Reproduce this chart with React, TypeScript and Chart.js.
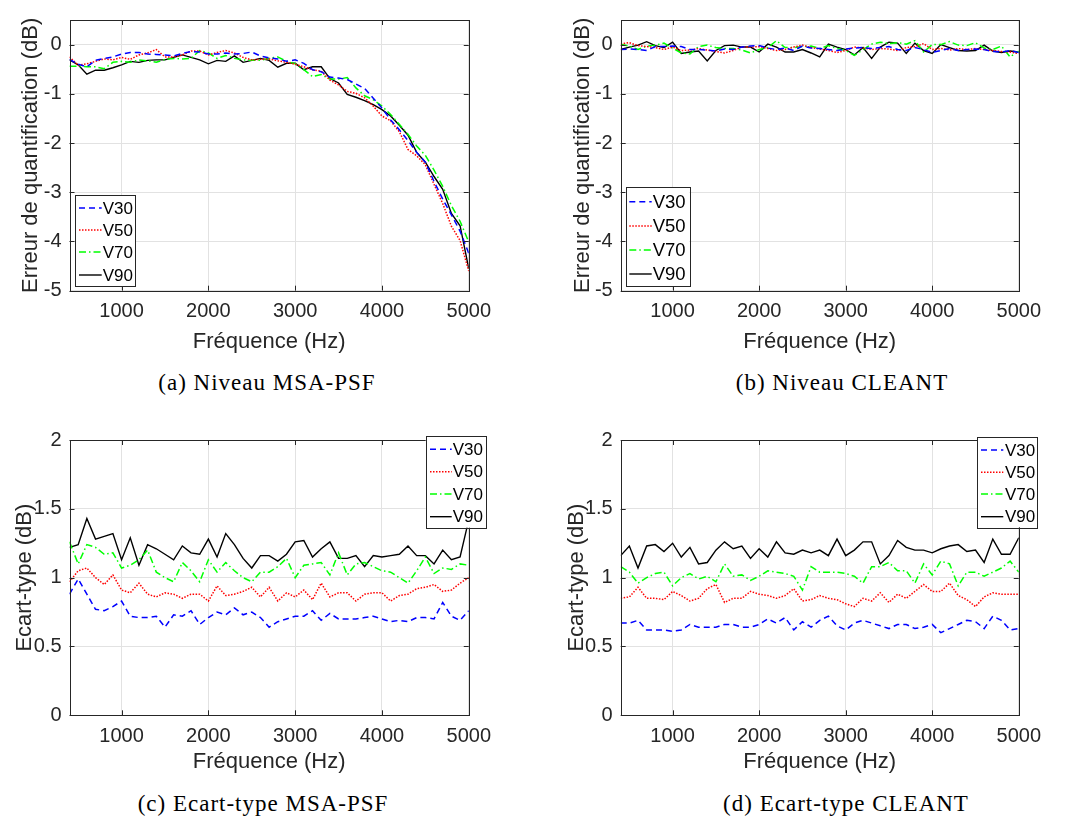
import React, { useEffect, useRef } from "react";
import { Chart, registerables } from "chart.js";
Chart.register(...registerables);

// ---------- data ----------
const freq = [400, 500, 600, 700, 800, 900, 1000, 1100, 1200, 1300, 1400, 1500, 1600, 1700, 1800, 1900, 2000, 2100, 2200, 2300, 2400, 2500, 2600, 2700, 2800, 2900, 3000, 3100, 3200, 3300, 3400, 3500, 3600, 3700, 3800, 3900, 4000, 4100, 4200, 4300, 4400, 4500, 4600, 4700, 4800, 4900, 5000];

const seriesNames = ["V30", "V50", "V70", "V90"];
const xTicks = [1000, 2000, 3000, 4000, 5000];
const levelTicks = [-5, -4, -3, -2, -1, 0];
const stdTicks = [0, 0.5, 1, 1.5, 2];

// (a) Niveau MSA-PSF
const a30 = [-0.30, -0.40, -0.45, -0.32, -0.28, -0.25, -0.19, -0.16, -0.16, -0.19, -0.20, -0.21, -0.23, -0.18, -0.14, -0.15, -0.19, -0.19, -0.17, -0.19, -0.18, -0.15, -0.23, -0.27, -0.29, -0.34, -0.31, -0.38, -0.51, -0.55, -0.66, -0.68, -0.71, -0.80, -0.89, -1.09, -1.29, -1.53, -1.73, -1.95, -2.19, -2.39, -2.78, -3.14, -3.46, -3.79, -4.24];
const a50 = [-0.25, -0.42, -0.39, -0.34, -0.29, -0.31, -0.26, -0.30, -0.21, -0.17, -0.10, -0.25, -0.25, -0.21, -0.13, -0.13, -0.21, -0.16, -0.12, -0.17, -0.26, -0.31, -0.30, -0.29, -0.33, -0.36, -0.40, -0.45, -0.51, -0.54, -0.72, -0.82, -0.95, -0.99, -1.08, -1.25, -1.45, -1.55, -1.77, -2.13, -2.26, -2.44, -2.84, -3.23, -3.69, -3.98, -4.60];
const a70 = [-0.44, -0.44, -0.45, -0.45, -0.49, -0.36, -0.34, -0.36, -0.31, -0.33, -0.36, -0.30, -0.28, -0.29, -0.28, -0.12, -0.17, -0.28, -0.22, -0.28, -0.31, -0.32, -0.32, -0.28, -0.25, -0.34, -0.39, -0.51, -0.65, -0.61, -0.70, -0.70, -0.67, -0.88, -1.04, -1.12, -1.25, -1.42, -1.62, -1.82, -2.06, -2.25, -2.55, -2.88, -3.27, -3.59, -4.01];
const a90 = [-0.31, -0.41, -0.60, -0.52, -0.52, -0.47, -0.41, -0.34, -0.36, -0.32, -0.31, -0.31, -0.26, -0.21, -0.26, -0.31, -0.39, -0.32, -0.34, -0.23, -0.36, -0.32, -0.28, -0.32, -0.46, -0.38, -0.38, -0.51, -0.45, -0.45, -0.69, -0.78, -1.01, -1.07, -1.14, -1.22, -1.32, -1.45, -1.64, -1.84, -2.19, -2.39, -2.68, -2.94, -3.43, -3.68, -4.55];

// (b) Niveau CLEANT
const b30 = [-0.10, -0.09, -0.10, -0.12, -0.04, -0.04, -0.03, -0.04, -0.10, -0.10, -0.11, -0.13, -0.09, -0.10, -0.05, -0.03, -0.02, -0.07, -0.10, -0.07, -0.12, -0.03, -0.07, -0.08, -0.10, -0.12, -0.09, -0.07, -0.06, -0.08, -0.06, -0.04, -0.10, -0.12, -0.06, -0.10, -0.16, -0.12, -0.08, -0.12, -0.10, -0.09, -0.10, -0.14, -0.15, -0.12, -0.16];
const b50 = [0.01, 0.04, -0.02, -0.04, -0.06, -0.10, -0.05, -0.12, -0.11, -0.08, -0.11, -0.14, -0.17, -0.12, -0.05, -0.05, -0.04, -0.08, -0.12, -0.10, -0.05, -0.01, -0.06, -0.09, -0.12, -0.16, -0.12, -0.05, -0.07, -0.10, -0.08, -0.09, -0.12, -0.06, -0.04, 0.02, -0.10, -0.08, -0.11, -0.08, -0.10, -0.08, -0.10, -0.12, -0.14, -0.15, -0.18];
const b70 = [0.01, -0.03, -0.10, -0.03, -0.01, 0.03, -0.07, -0.17, -0.19, -0.04, -0.01, -0.06, -0.08, -0.08, -0.11, -0.17, -0.10, -0.06, 0.08, -0.06, -0.06, -0.04, -0.03, -0.08, -0.02, -0.08, -0.12, -0.22, -0.10, 0.01, 0.05, 0.02, 0.04, 0.01, 0.08, -0.15, 0.00, 0.00, 0.06, -0.01, -0.02, 0.04, -0.07, -0.10, -0.03, -0.25, -0.13];
const b90 = [-0.10, -0.05, -0.01, 0.06, -0.02, -0.06, 0.05, -0.18, -0.15, -0.13, -0.33, -0.12, -0.02, -0.01, -0.05, -0.05, -0.15, 0.01, -0.05, -0.15, -0.15, -0.10, -0.17, -0.25, 0.01, -0.05, -0.10, -0.21, -0.06, -0.28, -0.05, 0.05, 0.03, -0.18, 0.03, -0.12, -0.18, 0.00, -0.06, -0.12, -0.13, -0.12, -0.01, -0.13, -0.16, -0.13, -0.15];

// (c) Ecart-type MSA-PSF
const c30 = [0.88, 0.99, 0.88, 0.77, 0.76, 0.79, 0.83, 0.72, 0.71, 0.71, 0.72, 0.64, 0.73, 0.72, 0.76, 0.66, 0.71, 0.75, 0.73, 0.78, 0.73, 0.75, 0.71, 0.64, 0.68, 0.70, 0.72, 0.72, 0.76, 0.69, 0.74, 0.70, 0.70, 0.70, 0.71, 0.72, 0.70, 0.68, 0.69, 0.68, 0.71, 0.71, 0.70, 0.82, 0.72, 0.69, 0.76];
const c50 = [0.97, 1.05, 1.07, 1.00, 0.95, 1.02, 0.91, 0.89, 0.96, 0.88, 0.86, 0.89, 0.88, 0.85, 0.88, 0.88, 0.83, 0.94, 0.87, 0.88, 0.90, 0.93, 0.86, 0.93, 0.83, 0.89, 0.86, 0.91, 0.84, 0.96, 0.86, 0.89, 0.89, 0.83, 0.88, 0.89, 0.89, 0.83, 0.87, 0.88, 0.92, 0.93, 0.95, 0.90, 0.91, 0.96, 1.00];
const c70 = [1.26, 1.10, 1.24, 1.22, 1.17, 1.18, 1.07, 1.09, 1.13, 1.20, 1.04, 1.00, 0.97, 1.11, 1.05, 0.97, 1.13, 1.04, 1.11, 1.05, 1.00, 0.97, 1.04, 1.04, 1.08, 1.14, 1.00, 1.09, 1.10, 1.11, 1.02, 1.18, 1.02, 1.10, 1.11, 1.08, 1.05, 1.04, 1.00, 0.96, 1.05, 1.15, 1.03, 1.07, 1.06, 1.10, 1.09];
const c90 = [1.22, 1.24, 1.43, 1.28, 1.30, 1.32, 1.13, 1.29, 1.09, 1.24, 1.21, 1.17, 1.13, 1.23, 1.18, 1.17, 1.28, 1.15, 1.32, 1.24, 1.14, 1.07, 1.16, 1.16, 1.12, 1.17, 1.26, 1.27, 1.15, 1.21, 1.26, 1.14, 1.14, 1.16, 1.08, 1.16, 1.15, 1.16, 1.17, 1.23, 1.16, 1.16, 1.10, 1.20, 1.13, 1.15, 1.42];

// (d) Ecart-type CLEANT
const d30 = [0.67, 0.67, 0.69, 0.62, 0.62, 0.62, 0.61, 0.62, 0.66, 0.64, 0.64, 0.64, 0.66, 0.66, 0.64, 0.64, 0.66, 0.70, 0.67, 0.71, 0.62, 0.68, 0.64, 0.69, 0.72, 0.65, 0.62, 0.67, 0.69, 0.67, 0.65, 0.63, 0.66, 0.66, 0.63, 0.64, 0.66, 0.60, 0.63, 0.66, 0.69, 0.68, 0.63, 0.72, 0.69, 0.62, 0.63];
const d50 = [0.85, 0.86, 0.93, 0.85, 0.85, 0.84, 0.90, 0.87, 0.83, 0.85, 0.92, 0.95, 0.82, 0.85, 0.85, 0.90, 0.88, 0.87, 0.85, 0.87, 0.92, 0.83, 0.84, 0.87, 0.85, 0.84, 0.81, 0.79, 0.85, 0.83, 0.89, 0.82, 0.88, 0.85, 0.90, 0.95, 0.90, 0.90, 0.96, 0.87, 0.84, 0.79, 0.86, 0.89, 0.88, 0.88, 0.88];
const d70 = [1.08, 1.04, 0.96, 1.00, 1.03, 1.04, 0.94, 1.00, 1.03, 0.99, 1.01, 0.97, 1.10, 1.01, 1.02, 0.98, 1.01, 1.05, 1.04, 1.03, 1.01, 0.91, 1.08, 1.04, 1.04, 1.04, 1.03, 1.01, 0.96, 1.08, 1.08, 1.11, 1.05, 1.05, 0.96, 1.10, 1.02, 1.12, 1.10, 0.94, 1.04, 1.04, 1.01, 1.04, 1.07, 1.12, 1.04];
const d90 = [1.16, 1.23, 1.07, 1.23, 1.24, 1.19, 1.25, 1.15, 1.22, 1.10, 1.11, 1.20, 1.26, 1.21, 1.23, 1.14, 1.21, 1.15, 1.26, 1.18, 1.17, 1.20, 1.18, 1.20, 1.16, 1.28, 1.16, 1.20, 1.26, 1.26, 1.10, 1.16, 1.27, 1.22, 1.20, 1.20, 1.18, 1.21, 1.23, 1.24, 1.19, 1.20, 1.11, 1.28, 1.17, 1.17, 1.29];

// ---------- styles ----------
const SANS = '"Liberation Sans", Arial, Helvetica, sans-serif';
const SERIF = '"Liberation Serif", "DejaVu Serif", serif';
const AXIS_COLOR = "#262626";
const GRID_COLOR = "#e2e2e2";
const lineStyles = [
  { color: "#0000ff", dash: [6, 4], width: 1.5 },
  { color: "#ff0000", dash: [1.5, 1.5], width: 1.5 },
  { color: "#00ff00", dash: [7, 3, 1.5, 3], width: 1.5 },
  { color: "#000000", dash: [] as number[], width: 1.4 },
];

const framePlugin = {
  id: "matlabFrame",
  afterDraw(chart: any, _args: any, opts: any) {
    const { ctx, chartArea: ca, scales } = chart;
    ctx.save();
    ctx.strokeStyle = AXIS_COLOR;
    ctx.lineWidth = 1;
    ctx.setLineDash([]);
    const tl = 5;
    ctx.beginPath();
    scales.x.ticks.forEach((t: any) => {
      const px = Math.round(scales.x.getPixelForValue(t.value)) + 0.5;
      ctx.moveTo(px, ca.bottom);
      ctx.lineTo(px, ca.bottom - tl);
      ctx.moveTo(px, ca.top);
      ctx.lineTo(px, ca.top + tl);
    });
    scales.y.ticks.forEach((t: any) => {
      const py = Math.round(scales.y.getPixelForValue(t.value)) + 0.5;
      ctx.moveTo(ca.left, py);
      ctx.lineTo(ca.left + tl, py);
      ctx.moveTo(ca.right, py);
      ctx.lineTo(ca.right - tl, py);
    });
    ctx.stroke();
    ctx.strokeRect(Math.round(ca.left) + 0.5, Math.round(ca.top) + 0.5, Math.round(ca.right - ca.left), Math.round(ca.bottom - ca.top));

    const lg = opts.legend;
    if (lg) {
      ctx.fillStyle = "#ffffff";
      ctx.fillRect(lg.x, lg.y, lg.w, lg.h);
      ctx.strokeStyle = AXIS_COLOR;
      ctx.strokeRect(Math.round(lg.x) + 0.5, Math.round(lg.y) + 0.5, Math.round(lg.w), Math.round(lg.h));
      seriesNames.forEach((name, i) => {
        const ry = lg.rows[i];
        ctx.strokeStyle = lineStyles[i].color;
        ctx.lineWidth = lineStyles[i].width;
        ctx.setLineDash(lineStyles[i].dash);
        ctx.beginPath();
        ctx.moveTo(lg.l1, ry);
        ctx.lineTo(lg.l2, ry);
        ctx.stroke();
        ctx.setLineDash([]);
        ctx.fillStyle = "#000000";
        ctx.font = `${lg.fs}px ${SANS}`;
        ctx.textBaseline = "middle";
        ctx.textAlign = "left";
        ctx.fillText(name, lg.tx, ry + 1);
      });
    }
    ctx.restore();
  },
};

type PanelDef = {
  key: string;
  left: number;
  top: number;
  width: number;
  height: number;
  yWidth: number;
  xHeight: number;
  padTop: number;
  padRight: number;
  ymin: number;
  ymax: number;
  yTicks: number[];
  ytitle: string;
  ytitlePad: number;
  series: number[][];
  legend: any;
  caption: string;
  capX: number;
  capY: number;
};

const panels: PanelDef[] = [
  {
    key: "a", left: 0, top: 0, width: 500, height: 360, yWidth: 69.5, xHeight: 69.3, padTop: 8.5, padRight: 11,
    ymin: -5, ymax: 0.5, yTicks: levelTicks, ytitle: "Erreur de quantification (dB)", ytitlePad: 18,
    series: [a30, a50, a70, a90],
    legend: { x: 75, y: 195, w: 60, h: 91, rows: [208, 230, 252, 275], l1: 79, l2: 101.7, tx: 102.7, fs: 17 },
    caption: "(a) Niveau MSA-PSF", capX: 267, capY: 383,
  },
  {
    key: "b", left: 550, top: 0, width: 500, height: 360, yWidth: 70.7, xHeight: 69.3, padTop: 8.5, padRight: 9.3,
    ymin: -5, ymax: 0.5, yTicks: levelTicks, ytitle: "Erreur de quantification (dB)", ytitlePad: 20,
    series: [b30, b50, b70, b90],
    legend: { x: 75.7, y: 187.3, w: 63.6, h: 98.7, rows: [201.7, 226, 250, 274], l1: 79.3, l2: 101.7, tx: 102.7, fs: 18.5 },
    caption: "(b) Niveau CLEANT", capX: 842, capY: 383,
  },
  {
    key: "c", left: 0, top: 420, width: 500, height: 360, yWidth: 69.5, xHeight: 64.7, padTop: 13.3, padRight: 11,
    ymin: 0, ymax: 2, yTicks: stdTicks, ytitle: "Ecart-type (dB)", ytitlePad: 12,
    series: [c30, c50, c70, c90],
    legend: { x: 425.7, y: 16, w: 60.3, h: 91.7, rows: [29.3, 51.7, 74, 96.7], l1: 430, l2: 451.7, tx: 452.7, fs: 17 },
    caption: "(c) Ecart-type MSA-PSF", capX: 263, capY: 804,
  },
  {
    key: "d", left: 550, top: 420, width: 500, height: 360, yWidth: 70.7, xHeight: 64.7, padTop: 13.3, padRight: 9.3,
    ymin: 0, ymax: 2, yTicks: stdTicks, ytitle: "Ecart-type (dB)", ytitlePad: 14,
    series: [d30, d50, d70, d90],
    legend: { x: 427.3, y: 16.7, w: 60, h: 90.6, rows: [30, 52.3, 74, 96.7], l1: 431, l2: 453.3, tx: 455, fs: 17 },
    caption: "(d) Ecart-type CLEANT", capX: 846, capY: 804,
  },
];

function Panel({ def }: { def: PanelDef }) {
  const ref = useRef<HTMLCanvasElement | null>(null);
  useEffect(() => {
    if (!ref.current) return;
    const datasets = def.series.map((vals, i) => ({
      label: seriesNames[i],
      data: freq.map((f, j) => ({ x: f, y: vals[j] })),
      borderColor: lineStyles[i].color,
      borderDash: lineStyles[i].dash,
      borderWidth: lineStyles[i].width,
      pointRadius: 0,
      tension: 0,
      fill: false,
    }));
    const chart = new Chart(ref.current, {
      type: "line",
      data: { datasets },
      options: {
        animation: false,
        responsive: false,
        devicePixelRatio: 1,
        layout: { padding: { left: 0, top: def.padTop, right: def.padRight, bottom: 0 } },
        plugins: {
          legend: { display: false },
          tooltip: { enabled: false },
          matlabFrame: { legend: def.legend },
        } as any,
        scales: {
          x: {
            type: "linear",
            min: 400,
            max: 5000,
            afterBuildTicks: (s: any) => { s.ticks = xTicks.map((v) => ({ value: v })); },
            afterFit: (s: any) => { s.height = def.xHeight; },
            grid: { color: GRID_COLOR, lineWidth: 1, drawTicks: false },
            border: { display: false },
            ticks: {
              padding: 9,
              maxRotation: 0,
              autoSkip: false,
              color: AXIS_COLOR,
              font: { family: SANS, size: 20 },
              callback: (v: any) => String(v),
            },
            title: {
              display: true,
              text: "Fréquence (Hz)",
              color: AXIS_COLOR,
              font: { family: SANS, size: 22 },
              padding: { top: 0, bottom: 5 },
            },
          },
          y: {
            type: "linear",
            min: def.ymin,
            max: def.ymax,
            afterBuildTicks: (s: any) => { s.ticks = def.yTicks.map((v) => ({ value: v })); },
            afterFit: (s: any) => { s.width = def.yWidth; },
            grid: { color: GRID_COLOR, lineWidth: 1, drawTicks: false },
            border: { display: false },
            ticks: {
              padding: 8,
              color: AXIS_COLOR,
              font: { family: SANS, size: 20 },
              callback: (v: any) => String(v),
            },
            title: {
              display: true,
              text: def.ytitle,
              color: AXIS_COLOR,
              font: { family: SANS, size: 22 },
              padding: { top: def.ytitlePad, bottom: 0 },
            },
          },
        },
      },
      plugins: [framePlugin as any],
    });
    return () => chart.destroy();
  }, [def]);
  return (
    <>
      <canvas
        ref={ref}
        width={def.width}
        height={def.height}
        style={{ position: "absolute", left: def.left, top: def.top, width: def.width, height: def.height }}
      />
      <div
        style={{
          position: "absolute",
          left: def.capX - 250,
          top: def.capY - 14,
          width: 500,
          height: 28,
          lineHeight: "28px",
          textAlign: "center",
          fontFamily: SERIF,
          fontSize: 23,
          letterSpacing: 1,
          color: "#000",
          whiteSpace: "nowrap",
        }}
      >
        {def.caption}
      </div>
    </>
  );
}

export default function App() {
  return (
    <div style={{ position: "absolute", left: 0, top: 0, width: 1069, height: 828, background: "#ffffff", overflow: "hidden" }}>
      {panels.map((p) => (
        <Panel key={p.key} def={p} />
      ))}
    </div>
  );
}
